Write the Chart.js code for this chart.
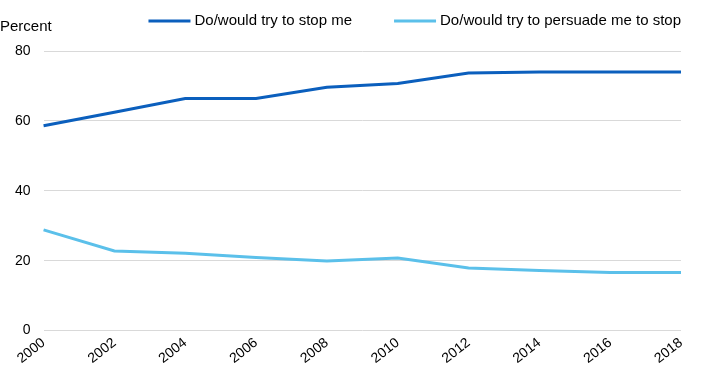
<!DOCTYPE html>
<html>
<head>
<meta charset="utf-8">
<script src="https://cdn.jsdelivr.net/npm/chart.js@4"></script>
<style>
  html, body { margin: 0; padding: 0; background: #fff; }
  #wrap { width: 709px; height: 383px; }
</style>
</head>
<body>
<div id="wrap"><canvas id="chart" width="709" height="383"></canvas></div>
<script>
const years = ['2000', '2002', '2004', '2006', '2008', '2010', '2012', '2014', '2016', '2018'];
const stopMe = [58.6, 62.5, 66.4, 66.4, 69.6, 70.7, 73.7, 74, 74, 74];
const persuadeMe = [28.8, 22.8, 22.1, 20.9, 19.9, 20.8, 17.9, 17.2, 16.6, 16.6];
const yTicks = [0, 20, 40, 60, 80];

const FONT = 'Liberation Sans, Arial, sans-serif';

// "Percent" label and a right-aligned legend row at the top
const topLabels = {
    id: 'topLabels',
    afterDraw(chart) {
        const ctx = chart.ctx;
        ctx.save();
        ctx.font = '15px ' + FONT;
        ctx.fillStyle = '#000';
        ctx.textBaseline = 'middle';
        ctx.textAlign = 'left';
        ctx.fillText('Percent', 0, 27);

        // legend: line sample + label, ending at the chart's right edge
        const lineW = 42, gapText = 4, gapItem = 42, y = 21;
        const sets = chart.data.datasets;
        const widths = sets.map(ds => lineW + gapText + ctx.measureText(ds.label).width);
        const total = widths.reduce((a, b) => a + b, 0) + gapItem * (sets.length - 1);
        let x = chart.chartArea.right - total;
        sets.forEach((ds, i) => {
            ctx.strokeStyle = ds.borderColor;
            ctx.lineWidth = 3;
            ctx.beginPath();
            ctx.moveTo(x, y);
            ctx.lineTo(x + lineW, y);
            ctx.stroke();
            ctx.fillText(ds.label, x + lineW + gapText, y);
            x += widths[i] + gapItem;
        });
        ctx.restore();
    }
};

document.addEventListener('DOMContentLoaded', function() {
    const ctx = document.getElementById('chart').getContext('2d');
    new Chart(ctx, {
        type: 'line',
        data: {
            labels: years,
            datasets: [{
                label: 'Do/would try to stop me',
                data: stopMe,
                borderColor: '#0b5fbd',
                backgroundColor: '#0b5fbd',
                borderWidth: 3,
                pointRadius: 0,
                tension: 0
            }, {
                label: 'Do/would try to persuade me to stop',
                data: persuadeMe,
                borderColor: '#5bc0ea',
                backgroundColor: '#5bc0ea',
                borderWidth: 3,
                pointRadius: 0,
                tension: 0
            }]
        },
        options: {
            responsive: false,
            animation: false,
            layout: {
                padding: { top: 51, right: 28, left: 2, bottom: 12 }
            },
            plugins: {
                legend: { display: false },
                tooltip: { enabled: false }
            },
            scales: {
                y: {
                    min: 0,
                    max: 80,
                    afterBuildTicks(axis) {
                        axis.ticks = yTicks.map(v => ({ value: v }));
                    },
                    border: { display: false },
                    grid: { color: '#d9d9d9', drawTicks: false, lineWidth: 1 },
                    ticks: {
                        padding: 13,
                        color: '#000',
                        font: { family: FONT, size: 14 }
                    }
                },
                x: {
                    border: { display: false },
                    grid: { display: false, drawTicks: false },
                    ticks: {
                        minRotation: 38,
                        maxRotation: 38,
                        padding: 4,
                        color: '#000',
                        font: { family: FONT, size: 14 }
                    }
                }
            }
        },
        plugins: [topLabels]
    });
});
</script>
</body>
</html>
